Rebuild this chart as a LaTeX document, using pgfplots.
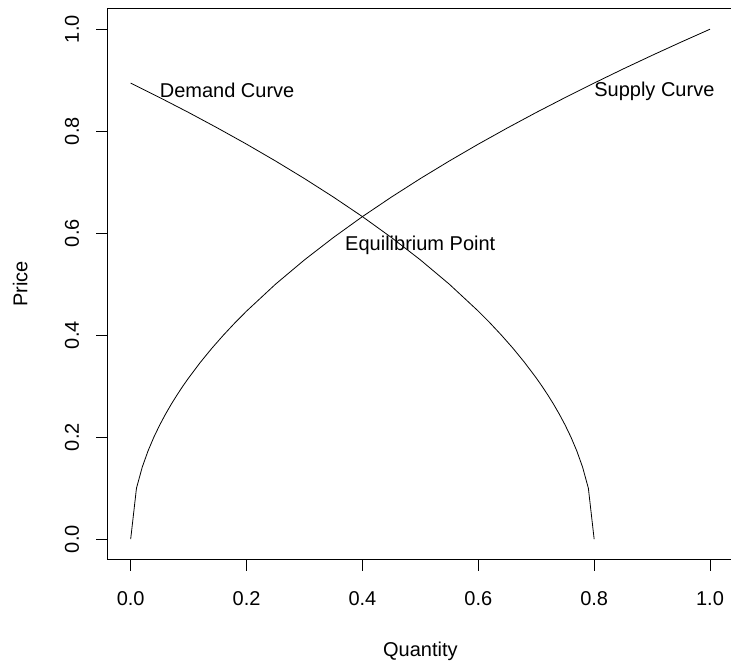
\documentclass[border=0pt]{standalone}
\usepackage{pgfplots}
\pgfplotsset{compat=1.18}
\usepackage{fontspec}
\setmainfont{Liberation Sans}
\begin{document}
\fontsize{20pt}{24pt}\selectfont
\begin{tikzpicture}
\useasboundingbox (0,0) rectangle (731pt,664pt);
\begin{axis}[
  at={(107.5pt,104.4pt)}, anchor=south west,
  scale only axis, width=625.7pt, height=550.8pt,
  xmin=-0.04, xmax=1.04, ymin=-0.04, ymax=1.04,
  xtick={0,0.2,0.4,0.6,0.8,1.0},
  ytick={0,0.2,0.4,0.6,0.8,1.0},
  xticklabels={0.0,0.2,0.4,0.6,0.8,1.0},
  yticklabels={0.0,0.2,0.4,0.6,0.8,1.0},
  tick align=outside, xtick pos=bottom, ytick pos=left,
  major tick length=11pt,
  every tick/.style={black, line width=0.9pt},
  axis line style={line width=0.9pt},
  xticklabel style={anchor=base, inner sep=0pt, yshift=-35pt},
  yticklabel style={xshift=-17.5pt, rotate=90, anchor=base, inner sep=0pt},
  xlabel={Quantity}, ylabel={Price},
  xlabel style={at={(axis description cs:0.5,0)}, anchor=base, inner sep=0pt, yshift=-96.6pt},
  ylabel style={at={([xshift=-80.2pt]axis description cs:0,0.5)}, anchor=base, inner sep=0pt},
  clip=false,
]
\addplot[black, line width=0.8pt] coordinates {
(0,0) (0.01,0.1) (0.02,0.1414) (0.03,0.1732) (0.04,0.2) (0.05,0.2236) (0.06,0.2449)
(0.07,0.2646) (0.08,0.2828) (0.09,0.3) (0.10,0.3162) (0.12,0.3464) (0.14,0.3742)
(0.16,0.4) (0.18,0.4243) (0.20,0.4472) (0.25,0.5) (0.30,0.5477) (0.35,0.5916)
(0.40,0.6325) (0.45,0.6708) (0.50,0.7071) (0.55,0.7416) (0.60,0.7746) (0.65,0.8062)
(0.70,0.8367) (0.75,0.8660) (0.80,0.8944) (0.85,0.9220) (0.90,0.9487) (0.95,0.9747) (1.0,1.0)
};
\addplot[black, line width=0.8pt] coordinates {
(0,0.8944) (0.05,0.8660) (0.10,0.8367) (0.15,0.8062) (0.20,0.7746) (0.25,0.7416)
(0.30,0.7071) (0.35,0.6708) (0.40,0.6325) (0.45,0.5916) (0.50,0.5477) (0.55,0.5)
(0.60,0.4472) (0.62,0.4243) (0.64,0.4) (0.66,0.3742) (0.68,0.3464) (0.70,0.3162)
(0.71,0.3) (0.72,0.2828) (0.73,0.2646) (0.74,0.2449) (0.75,0.2236) (0.76,0.2)
(0.77,0.1732) (0.78,0.1414) (0.79,0.1) (0.80,0)
};
\node[anchor=base west, inner sep=0pt] at (axis cs:0.05,0.866) {Demand Curve};
\node[anchor=base west, inner sep=0pt] at (axis cs:0.80,0.868) {Supply Curve};
\node[anchor=base west, inner sep=0pt] at (axis cs:0.37,0.567) {Equilibrium Point};
\end{axis}
\end{tikzpicture}
\end{document}
